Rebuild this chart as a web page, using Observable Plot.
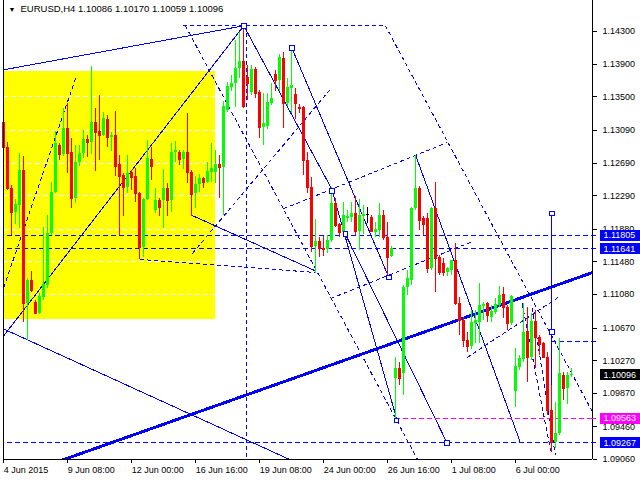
<!DOCTYPE html>
<html><head><meta charset="utf-8">
<script src="https://cdn.jsdelivr.net/npm/d3@7"></script>
<script src="https://cdn.jsdelivr.net/npm/@observablehq/plot@0.6"></script>
<style>
body{margin:0;background:#fff;}
#c svg{display:block;}
</style></head><body><div id="c"></div>
<script>
// ---- OHLC of EURUSD H4 candles (bar 0 = 4 Jun 2015 16:00) ----
const open = [
1.1319,1.1288,1.1238,1.1208,1.1217,1.1260,1.1097,1.1125,1.1098,1.1085,
1.1104,1.1119,1.1183,1.1233,1.1290,1.1279,1.1311,1.1282,1.1226,1.1270,
1.1281,1.1298,1.1294,1.1319,1.1308,1.1303,1.1322,1.1300,1.1303,1.1267,
1.1254,1.1239,1.1257,1.1253,1.1232,1.1166,1.1224,1.1273,1.1211,1.1223,
1.1223,1.1238,1.1223,1.1282,1.1282,1.1273,1.1282,1.1257,1.1232,1.1243,
1.1250,1.1245,1.1257,1.1257,1.1267,1.1264,1.1333,1.1361,1.1366,1.1385,
1.1393,1.1374,1.1355,1.1383,1.1355,1.1313,1.1314,1.1342,1.1377,1.1370,
1.1397,1.1342,1.1360,1.1353,1.1337,1.1337,1.1272,1.1239,1.1167,1.1173,
1.1164,1.1163,1.1174,1.1219,1.1194,1.1184,1.1201,1.1202,1.1207,1.1185,
1.1204,1.1206,1.1202,1.1184,1.1186,1.1205,1.1178,1.1155,1.1005,1.1018,
1.1011,1.1117,1.1125,1.1213,1.1238,1.1201,1.1201,1.1140,1.1213,1.1153,
1.1146,1.1135,1.1137,1.1150,1.1097,1.1076,1.1052,1.1044,1.1073,1.1074,
1.1093,1.1097,1.1080,1.1086,1.1095,1.1108,1.1092,1.1073,1.0989,1.1019,
1.1029,1.1063,1.1031,1.1075,1.1055,1.1048,1.1031,1.0966,1.0927,1.0938,
1.1009,1.0993,1.10086];
const high = [
1.1321,1.1294,1.1242,1.1224,1.1281,1.1277,1.1128,1.1136,1.1101,1.1109,
1.1190,1.1205,1.1245,1.1308,1.1293,1.1336,1.1342,1.1299,1.1290,1.1290,
1.1309,1.1303,1.1387,1.1336,1.1352,1.1331,1.1327,1.1306,1.1332,1.1278,
1.1256,1.1278,1.1260,1.1262,1.1233,1.1226,1.1297,1.1288,1.1238,1.1226,
1.1261,1.1244,1.1293,1.1295,1.1284,1.1284,1.1330,1.1260,1.1253,1.1255,
1.1251,1.1270,1.1293,1.1284,1.1278,1.1344,1.1368,1.1376,1.1419,1.1429,
1.1437,1.1388,1.1388,1.1386,1.1358,1.1354,1.1354,1.1366,1.1382,1.1402,
1.1404,1.1372,1.1410,1.1360,1.1341,1.1338,1.1282,1.1251,1.1200,1.1178,
1.1179,1.1180,1.1239,1.1226,1.1195,1.1221,1.1211,1.1221,1.1228,1.1224,
1.1217,1.1215,1.1205,1.1196,1.1219,1.1211,1.1196,1.1167,1.1031,1.1025,
1.1119,1.1137,1.1214,1.1278,1.1240,1.1204,1.1207,1.1214,1.1245,1.1156,
1.1152,1.1141,1.1150,1.1171,1.1104,1.1080,1.1062,1.1089,1.1089,1.1122,
1.1098,1.1098,1.1095,1.1103,1.1118,1.1117,1.1095,1.1107,1.1042,1.1033,
1.1097,1.1092,1.1085,1.1089,1.1058,1.1049,1.1037,1.0997,1.0976,1.1054,
1.1013,1.1013,1.10170];
const low = [
1.1272,1.1235,1.1180,1.1194,1.1189,1.1074,1.1052,1.1111,1.1085,1.1084,
1.1101,1.1115,1.1180,1.1232,1.1272,1.1277,1.1256,1.1213,1.1219,1.1265,
1.1275,1.1276,1.1279,1.1259,1.1272,1.1301,1.1288,1.1283,1.1253,1.1180,
1.1204,1.1232,1.1235,1.1221,1.1151,1.1153,1.1223,1.1248,1.1207,1.1204,
1.1189,1.1204,1.1208,1.1270,1.1266,1.1261,1.1244,1.1204,1.1213,1.1233,
1.1238,1.1244,1.1245,1.1244,1.1226,1.1205,1.1331,1.1357,1.1337,1.1372,
1.1336,1.1346,1.1352,1.1348,1.1299,1.1290,1.1310,1.1339,1.1357,1.1357,
1.1311,1.1338,1.1330,1.1322,1.1330,1.1254,1.1232,1.1160,1.1134,1.1153,
1.1155,1.1158,1.1172,1.1190,1.1178,1.1178,1.1196,1.1196,1.1180,1.1162,
1.1182,1.1195,1.1184,1.1178,1.1178,1.1174,1.1129,1.1153,1.0956,1.0997,
1.0984,1.1107,1.1119,1.1211,1.1186,1.1180,1.1134,1.1137,1.1111,1.1131,
1.1130,1.1130,1.1131,1.1095,1.1058,1.1043,1.1037,1.1041,1.1048,1.1048,
1.1076,1.1074,1.1074,1.1084,1.1092,1.1079,1.1064,1.1070,1.0970,1.1015,
1.1025,1.1000,1.1027,1.1018,1.1033,1.1030,1.0960,1.0915,1.0920,1.0936,
1.0978,1.0973,1.10059];
const close = [
1.1288,1.1238,1.1208,1.1218,1.1260,1.1097,1.1125,1.1113,1.1085,1.1106,
1.1120,1.1183,1.1233,1.1293,1.1279,1.1311,1.1281,1.1226,1.1270,1.1281,
1.1298,1.1294,1.1319,1.1306,1.1303,1.1324,1.1300,1.1303,1.1265,1.1253,
1.1239,1.1256,1.1251,1.1232,1.1166,1.1224,1.1275,1.1265,1.1223,1.1215,
1.1238,1.1223,1.1282,1.1284,1.1273,1.1282,1.1257,1.1230,1.1243,1.1250,
1.1245,1.1259,1.1262,1.1267,1.1264,1.1338,1.1363,1.1366,1.1385,1.1393,
1.1338,1.1366,1.1383,1.1354,1.1313,1.1317,1.1343,1.1348,1.1370,1.1398,
1.1342,1.1361,1.1364,1.1342,1.1336,1.1272,1.1239,1.1167,1.1173,1.1164,
1.1163,1.1174,1.1219,1.1193,1.1184,1.1205,1.1204,1.1207,1.1185,1.1205,
1.1206,1.1206,1.1185,1.1188,1.1205,1.1178,1.1153,1.1164,1.1018,1.1005,
1.1117,1.1128,1.1213,1.1238,1.1199,1.1194,1.1140,1.1213,1.1152,1.1135,
1.1135,1.1140,1.1150,1.1097,1.1076,1.1052,1.1044,1.1074,1.1076,1.1095,
1.1096,1.1082,1.1087,1.1096,1.1107,1.1092,1.1073,1.1106,1.1020,1.1030,
1.1062,1.1031,1.1075,1.1055,1.1047,1.1031,1.0966,1.0927,1.0938,1.1011,
1.0993,1.1009,1.10096];

// ---- axis ticks ----
const xTickBars = [0,16,32,48,64,80,96,112,128];
const xTickLabels = ["4 Jun 2015","9 Jun 08:00","12 Jun 00:00","16 Jun 16:00","19 Jun 08:00","24 Jun 00:00","26 Jun 16:00","1 Jul 08:00","6 Jul 00:00"];
const yTicks = [1.14300,1.13900,1.13500,1.13090,1.12690,1.12290,1.11880,1.11480,1.11080,1.10670,1.10270,1.09870,1.09460,1.09060];

// ---- price tags on the right ----
const tagPrices = [1.11805,1.11641,1.10096,1.09563,1.09267];
const tagColors = ["#0000ff","#0000ff","#000000","#ff00ff","#0000ff"];

// ---- horizontal levels (price, first bar, colour) ----
const levelPrices = [1.11805,1.11641,1.09267,1.09563,1.1050];
const levelFrom   = [-5,-5,-5,98,137];
const levelColors = ["#0000ff","#0000ff","#0000ff","#ff00ff","#0000ff"];

// ---- highlighted rectangle (bars, prices) ----
const boxBars = [-5,53];
const boxPrices = [1.1077,1.1381];

// ---- solid trend lines (bar, price) -> (bar, price) ----
const solidBar1   = [-0.1, -0.1, -0.1, 60,    72,    82,    85.4,  103,   47,    137];
const solidPrice1 = [1.1383,1.1057,1.1066,1.1437,1.1410,1.1237,1.1182,1.1278,1.1205,1.1207];
const solidBar2   = [60,   60,    72.4,  82,    96.25, 98.2,  110.85,129.2, 77.9,  137];
const solidPrice2 = [1.1437,1.1437,1.0904,1.1237,1.1129,1.0956,1.0926,1.0926,1.1137,1.0990];

// ---- dashed channel lines ----
const dashBar1   = [44.9,  45.4,  95.4,  60.6,  0,     47.1,  69.9,  81.7,  115.85,34,    129.6, 132.1];
const dashPrice1 = [1.1437,1.1437,1.1437,1.1437,1.1117,1.1158,1.1213,1.1103,1.1031,1.1151,1.1097,1.1092];
const dashBar2   = [95.4,  104,   147.2, 60.6,  18.2,  82.1,  110.85,116.7, 138.75,77.9,  136.7, 137.9];
const dashPrice2 = [1.1437,1.0901,1.0964,1.0906,1.1376,1.1362,1.1294,1.1172,1.1105,1.1135,1.0917,1.0911];

// ---- main (thick) trend line ----
const thickBar   = [14.4, 147.2];
const thickPrice = [1.0905, 1.1135];

// ---- anchor points of selected objects ----
const anchorBar   = [60,    72,    82.1,  85.4,  96.25, 98.2,  110.85,137,   137];
const anchorPrice = [1.1437,1.1410,1.1235,1.1182,1.1129,1.0954,1.0926,1.1207,1.1062];

const title = "EURUSD,H4 1.10086 1.10170 1.10059 1.10096";

// ---------------------------------------------------------------
const X0=-0.075, X1=147.175, Y0=1.09061, Y1=1.14679;
const W=640, ML=3, MR=48;
const barsPerPx = (X1-X0)/(W-ML-MR);          // for placing things in the right margin
const candles = open.map((o,i)=>({i,o,h:high[i],l:low[i],c:close[i]}));
const col = d => d.c>d.o?"#00ff00":(d.c<d.o?"#ff0000":"#000000");
const mk = (a,b,c,d) => a.map((v,j)=>({x1:v,y1:b[j],x2:c[j],y2:d[j]}));
const solids = mk(solidBar1,solidPrice1,solidBar2,solidPrice2);
const dashes = mk(dashBar1,dashPrice1,dashBar2,dashPrice2);
const thick = [{x1:thickBar[0],y1:thickPrice[0],x2:thickBar[1],y2:thickPrice[1]}];
const levels = levelPrices.map((p,j)=>({p,from:levelFrom[j],c:levelColors[j]}));
const tags = tagPrices.map((p,j)=>({p,c:tagColors[j],s:p.toFixed(5)}));
const anchors = anchorBar.map((b,j)=>({b,p:anchorPrice[j]}));
const FONT = '"Liberation Sans", Arial, sans-serif';
const LK = {x1:"x1",y1:"y1",x2:"x2",y2:"y2",stroke:"#0000ff",clip:true};
const tagX1 = X1 + 8*barsPerPx, tagX2 = X1 + 48*barsPerPx;

const chart = Plot.plot({
  width:W, height:480, marginLeft:ML, marginRight:MR, marginTop:0, marginBottom:21,
  style:{fontFamily:FONT, fontSize:"9px", background:"#fff", color:"#000", shapeRendering:"crispEdges"},
  x:{domain:[X0,X1], axis:null},
  y:{domain:[Y0,Y1], axis:null},
  marks:[
    Plot.rect([0],{x1:boxBars[0],x2:boxBars[1],y1:boxPrices[0],y2:boxPrices[1],fill:"#ffff00",clip:true}),
    Plot.ruleY(yTicks,{stroke:"#ffffff",strokeDasharray:"5,3"}),
    Plot.link(dashes,{...LK,strokeWidth:1,strokeDasharray:"4,3"}),
    Plot.link(solids,{...LK,strokeWidth:1}),
    Plot.link(thick,{...LK,strokeWidth:3}),
    Plot.ruleY(levels,{y:"p",x1:"from",x2:X1,stroke:"c",strokeDasharray:"5,3",clip:true}),
    Plot.ruleX(candles,{x:"i",y1:"l",y2:"h",stroke:col}),
    Plot.rect(candles,{x1:d=>d.i-0.375,x2:d=>d.i+0.375,y1:d=>Math.min(d.o,d.c),y2:d=>Math.max(d.o,d.c),fill:col}),
    Plot.ruleY(candles,{y:"c",x1:d=>d.i-0.375,x2:d=>d.i+0.375,stroke:col}),
    Plot.dot(anchors,{x:"b",y:"p",symbol:"square",r:2.6,stroke:"#0000ff",fill:"#ffffff",strokeWidth:1}),
    Plot.ruleX([X0,X1],{stroke:"#000"}),
    Plot.ruleY([Y0],{stroke:"#000"}),
    Plot.axisY(yTicks,{anchor:"right",tickSize:4,tickPadding:6,tickFormat:d=>d.toFixed(5),fontSize:9,label:null}),
    Plot.axisX(xTickBars,{anchor:"bottom",tickSize:4,tickPadding:3,textAnchor:"start",dx:0,
      tickFormat:d=>xTickLabels[xTickBars.indexOf(d)],fontSize:9,label:null}),
    // small coloured ticks for the levels on the price scale
    Plot.ruleY(levels,{y:"p",x1:X1,x2:X1+4*barsPerPx,stroke:"c"}),
    // coloured price tags
    Plot.ruleY(tags,{y:"p",x1:tagX1,x2:tagX2,stroke:"c",strokeWidth:11}),
    Plot.text(tags,{y:"p",x:tagX1,dx:3,textAnchor:"start",text:"s",fill:"#ffffff",fontSize:9}),
    Plot.text([title],{frameAnchor:"top-left",dx:17,dy:5,textAnchor:"start",lineAnchor:"top",fontSize:9.5,fill:"#000"}),
    Plot.text(["\u25BC"],{frameAnchor:"top-left",dx:5,dy:7,textAnchor:"start",lineAnchor:"top",fontSize:7,fill:"#000"})
  ]
});
document.getElementById("c").appendChild(chart);
</script>
</body></html>
